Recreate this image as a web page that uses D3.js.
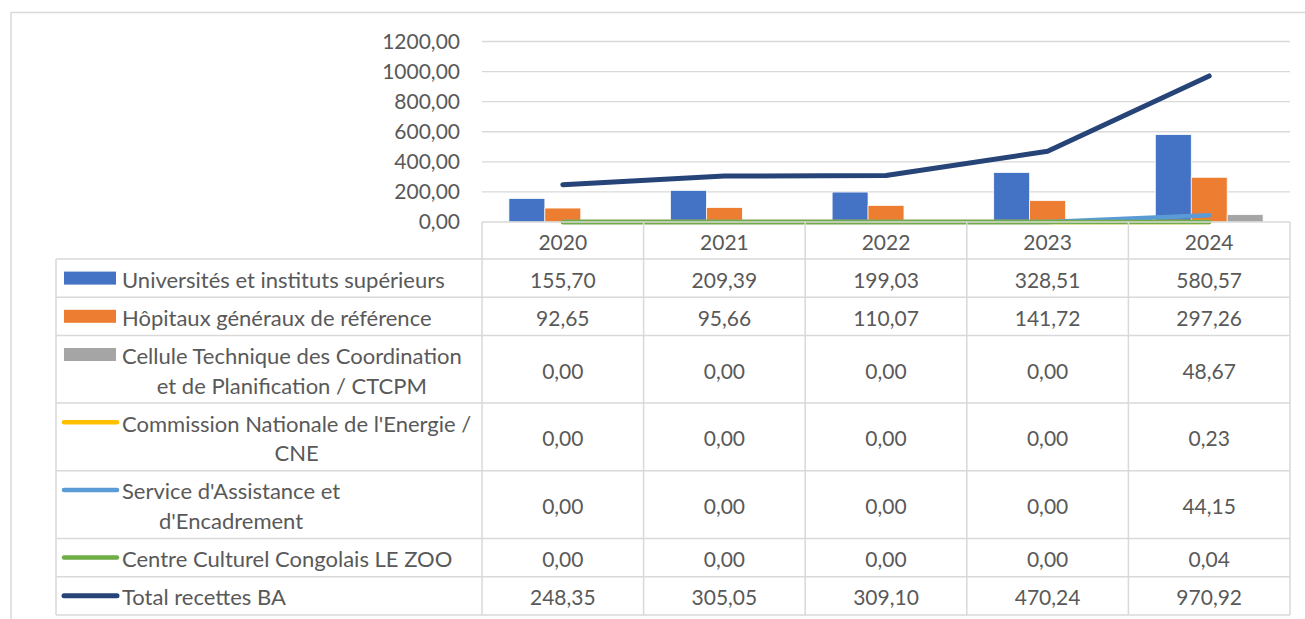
<!DOCTYPE html>
<html>
<head>
<meta charset="utf-8">
<script src="https://cdn.jsdelivr.net/npm/d3@7"></script>
<style>
  html, body { margin: 0; padding: 0; background: #fff; }
  svg { display: block; font-family: Lato, "Open Sans", sans-serif; }
</style>
</head>
<body>
<svg id="chart" width="1305" height="619"></svg>
<script>
// data
var years = ["2020", "2021", "2022", "2023", "2024"];
var universites = [155.70, 209.39, 199.03, 328.51, 580.57];
var hopitaux = [92.65, 95.66, 110.07, 141.72, 297.26];
var ctcpm = [0.00, 0.00, 0.00, 0.00, 48.67];
var cne = [0.00, 0.00, 0.00, 0.00, 0.23];
var assistance = [0.00, 0.00, 0.00, 0.00, 44.15];
var zoo = [0.00, 0.00, 0.00, 0.00, 0.04];
var total = [248.35, 305.05, 309.10, 470.24, 970.92];
var yTicks = [0, 200, 400, 600, 800, 1000, 1200];

var series = [
  { name: "Universités et instituts supérieurs", values: universites, type: "bar", color: "#4472C4" },
  { name: "Hôpitaux généraux de référence", values: hopitaux, type: "bar", color: "#ED7D31" },
  { name: "Cellule Technique des Coordination et de Planification / CTCPM", values: ctcpm, type: "bar", color: "#A5A5A5" },
  { name: "Commission Nationale de l'Energie / CNE", values: cne, type: "line", color: "#FFC000" },
  { name: "Service d'Assistance et d'Encadrement", values: assistance, type: "line", color: "#5B9BD5" },
  { name: "Centre Culturel Congolais LE ZOO", values: zoo, type: "line", color: "#70AD47" },
  { name: "Total recettes BA", values: total, type: "line", color: "#264478" }
];

var svg = d3.select("#chart");
var grid = "#D9D9D9", txt = "#595959";
var fmt = function (v) { return d3.format(".2f")(v).replace(".", ","); };

var plotL = 482, plotR = 1290, plotT = 41.5, plotB = 222;
var tableL = 56, textX = 122, wrapW = 356;

// outer chart border
svg.append("path")
  .attr("d", "M11,619 V12.5 H1305")
  .attr("fill", "none").attr("stroke", grid).attr("stroke-width", 1.5);

var x = d3.scaleBand().domain(years).range([plotL, plotR]);
var y = d3.scaleLinear().domain([0, 1200]).range([plotB, plotT]);
var barSeries = series.filter(function (s) { return s.type === "bar"; });
var bw = x.bandwidth() / (barSeries.length + 1.5);
var xs = d3.scaleBand().domain(barSeries.map(function (s) { return s.name; }))
  .range([bw * 0.75, bw * 0.75 + bw * barSeries.length]);

// gridlines
svg.append("g").selectAll("line")
  .data(yTicks.filter(function (t) { return t > 0; }))
  .enter().append("line")
    .attr("x1", plotL).attr("x2", plotR)
    .attr("y1", function (d) { return y(d); }).attr("y2", function (d) { return y(d); })
    .attr("stroke", grid).attr("stroke-width", 1.3);

// y axis labels
var yAxis = svg.append("g").attr("transform", "translate(" + (plotL - 22) + ",0)")
  .call(d3.axisLeft(y).tickValues(yTicks).tickFormat(fmt).tickSize(0).tickPadding(0));
yAxis.select(".domain").remove();
yAxis.selectAll("text")
  .attr("fill", txt).style("font-size", "21px").style("font-family", "Lato, sans-serif");

// bars
barSeries.forEach(function (s) {
  svg.append("g").selectAll("rect")
    .data(s.values)
    .enter().append("rect")
      .attr("x", function (d, i) { return x(years[i]) + xs(s.name); })
      .attr("width", xs.bandwidth())
      .attr("y", function (d) { return y(d); })
      .attr("height", function (d) { return plotB - y(d); })
      .attr("fill", s.color)
      .attr("stroke", "#fff").attr("stroke-width", 0.7);
});

// lines
var line = d3.line()
  .x(function (d, i) { return x(years[i]) + x.bandwidth() / 2; })
  .y(function (d) { return y(d); });
series.filter(function (s) { return s.type === "line"; }).forEach(function (s) {
  svg.append("path")
    .datum(s.values)
    .attr("d", line)
    .attr("fill", "none")
    .attr("stroke", s.color)
    .attr("stroke-width", s.name === "Total recettes BA" ? 5 : 4.5)
    .attr("stroke-linecap", "round").attr("stroke-linejoin", "round");
});

// data table
var fontSize = 21, labelSize = 22, lineH = 29.5, pad = 8.7, headerH = 37;
var measure = svg.append("text").style("font-size", labelSize + "px");
function textW(t) { measure.text(t); return measure.node().getComputedTextLength(); }
function wrap(t) {
  var words = t.split(" "), lines = [], cur = "";
  words.forEach(function (w) {
    var test = cur ? cur + " " + w : w;
    if (cur && textW(test) > wrapW) { lines.push(cur); cur = w; } else { cur = test; }
  });
  lines.push(cur);
  return lines;
}
series.forEach(function (s) { s.lines = wrap(s.name); });
var rowY = [plotB + headerH];
series.forEach(function (s, i) { rowY.push(rowY[i] + pad + lineH * s.lines.length); });
var tableB = rowY[rowY.length - 1];

var tbl = svg.append("g").attr("stroke", grid).attr("stroke-width", 1.5);
tbl.append("line").attr("x1", plotL).attr("x2", plotR).attr("y1", plotB).attr("y2", plotB);
rowY.forEach(function (ry) {
  tbl.append("line").attr("x1", tableL).attr("x2", plotR).attr("y1", ry).attr("y2", ry);
});
tbl.append("line").attr("x1", tableL).attr("x2", tableL).attr("y1", rowY[0]).attr("y2", tableB);
years.concat(["end"]).forEach(function (yr, i) {
  var xx = i < years.length ? x(yr) : plotR;
  tbl.append("line").attr("x1", xx).attr("x2", xx).attr("y1", plotB).attr("y2", tableB);
});

// year headers
svg.append("g").selectAll("text")
  .data(years).enter().append("text")
    .attr("x", function (d) { return x(d) + x.bandwidth() / 2; })
    .attr("y", plotB + headerH / 2 + 1)
    .attr("text-anchor", "middle").attr("dominant-baseline", "central")
    .attr("fill", txt).style("font-size", fontSize + "px")
    .text(function (d) { return d; });

series.forEach(function (s, si) {
  var top = rowY[si], bot = rowY[si + 1], mid = (top + bot) / 2;
  var n = s.lines.length;
  var firstY = mid - (n - 1) * lineH / 2;
  // legend key
  if (s.type === "bar") {
    svg.append("rect").attr("x", 64).attr("y", firstY - 6.5).attr("width", 52).attr("height", 13)
      .attr("fill", s.color);
  } else {
    svg.append("line").attr("x1", 64).attr("x2", 117).attr("y1", firstY).attr("y2", firstY)
      .attr("stroke", s.color).attr("stroke-width", s.name === "Total recettes BA" ? 5 : 4.5)
      .attr("stroke-linecap", "round");
  }
  // label, lines centred on the widest line
  var maxW = d3.max(s.lines, textW);
  svg.append("g").selectAll("text")
    .data(s.lines).enter().append("text")
      .attr("x", n > 1 ? textX + maxW / 2 : textX)
      .attr("text-anchor", n > 1 ? "middle" : "start")
      .attr("y", function (d, i) { return firstY + i * lineH + 1; })
      .attr("dominant-baseline", "central")
      .attr("fill", txt).style("font-size", labelSize + "px")
      .text(function (d) { return d; });
  // values
  svg.append("g").selectAll("text")
    .data(s.values).enter().append("text")
      .attr("x", function (d, i) { return x(years[i]) + x.bandwidth() / 2; })
      .attr("y", mid + 1)
      .attr("text-anchor", "middle").attr("dominant-baseline", "central")
      .attr("fill", txt).style("font-size", fontSize + "px")
      .text(fmt);
});
measure.remove();
</script>
</body>
</html>
